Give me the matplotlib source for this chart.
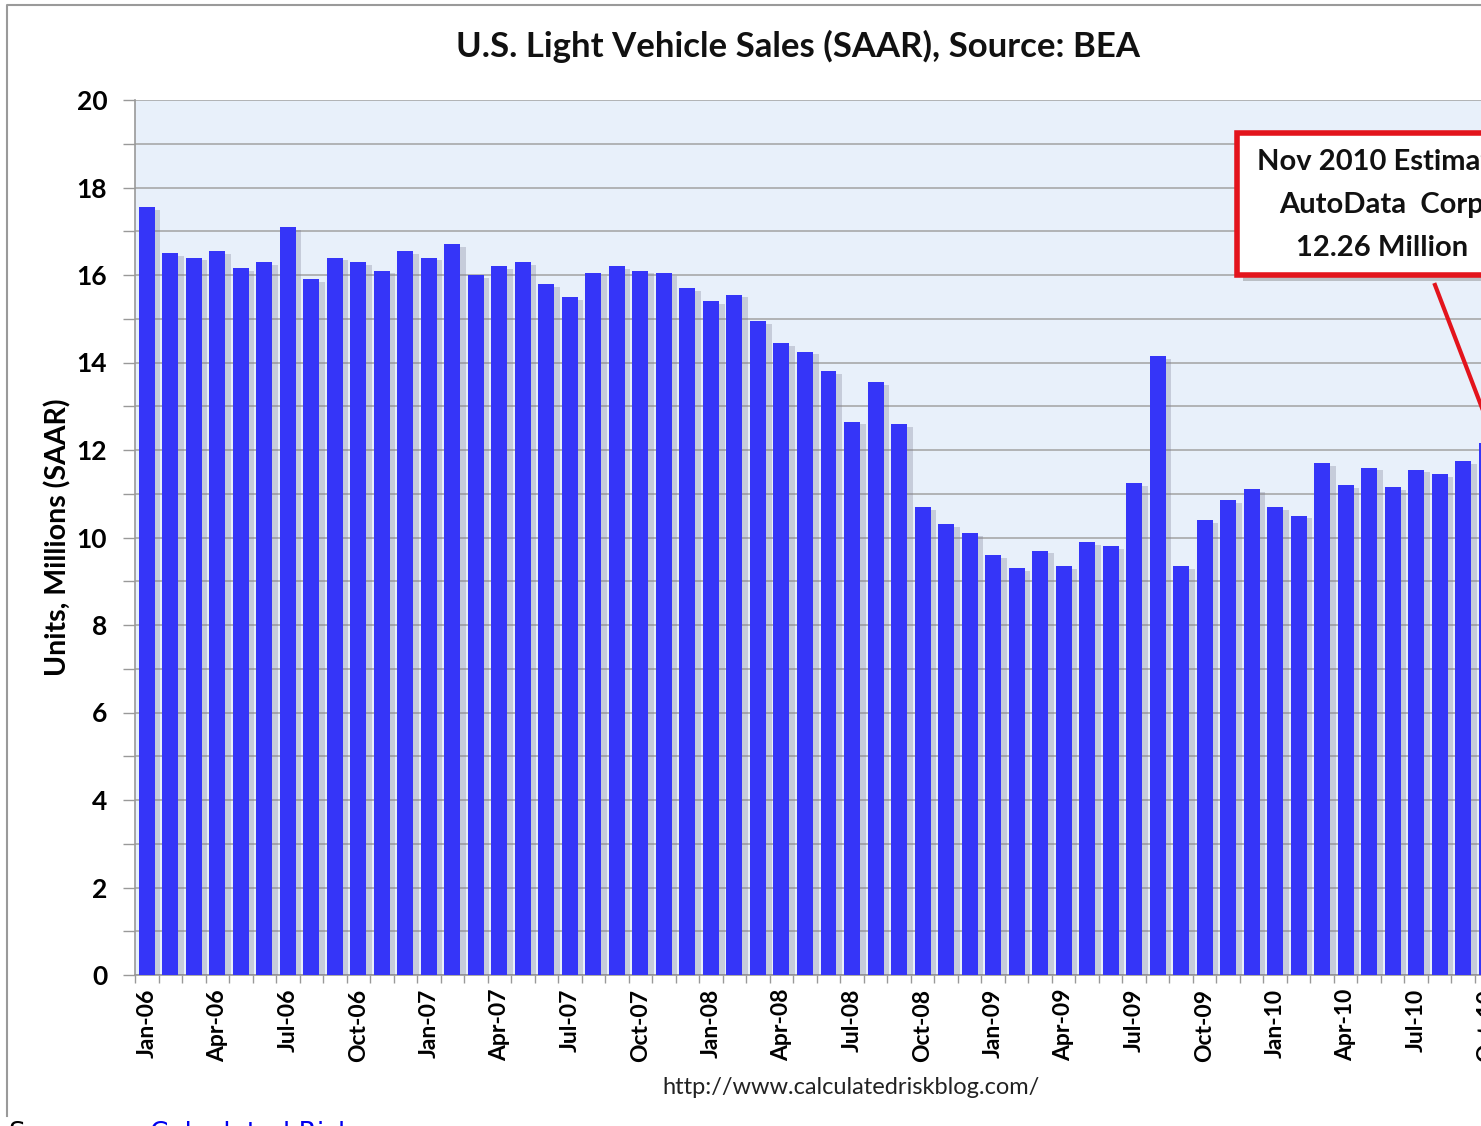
import matplotlib
matplotlib.use('Agg')
import matplotlib.pyplot as plt
import matplotlib.patheffects as pe
from matplotlib.patches import Rectangle
import numpy as np
import pandas as pd

plt.rcParams['font.family'] = ['Lato', 'DejaVu Sans']

# monthly light vehicle sales, SAAR, millions (Jan-06 .. Nov-10)
sales = [
    17.55, 16.50, 16.40, 16.55, 16.15, 16.30, 17.10, 15.90, 16.40, 16.30, 16.10, 16.55,  # 2006
    16.40, 16.70, 16.00, 16.20, 16.30, 15.80, 15.50, 16.05, 16.20, 16.10, 16.05, 15.70,  # 2007
    15.40, 15.55, 14.95, 14.45, 14.25, 13.80, 12.65, 13.55, 12.60, 10.70, 10.30, 10.10,  # 2008
    9.60, 9.30, 9.70, 9.35, 9.90, 9.80, 11.25, 14.15, 9.35, 10.40, 10.85, 11.10,         # 2009
    10.70, 10.50, 11.70, 11.20, 11.60, 11.15, 11.55, 11.45, 11.75, 12.15, 12.26,         # 2010
]
months = pd.date_range('2006-01-01', periods=len(sales), freq='MS').strftime('%b-%y').tolist()

title = 'U.S. Light Vehicle Sales (SAAR), Source: BEA'
note_lines = ['Nov 2010 Estimate', 'AutoData  Corp', '12.26 Million']

W, H = 1481, 1126
fig = plt.figure(figsize=(W / 100, H / 100), dpi=100)


def fx(px):
    return px / W


def fy(py):
    return 1 - py / H


# outer chart frame (left and top edges only are visible)
fig.add_artist(plt.Line2D([fx(7), fx(7), 1.0], [fy(1116), fy(5), fy(5)], transform=fig.transFigure,
                          color='#9a9a9a', lw=1.5, zorder=-1))

ax = fig.add_axes([fx(135), fy(975), fx(1522) - fx(135), fy(100) - fy(975)])
ax.set_facecolor('#e8f0fa')

x = np.arange(len(sales))
ax.bar(x, sales, width=0.68, color='#3535f8', zorder=3,
       path_effects=[pe.SimplePatchShadow(offset=(4, -2), shadow_rgbFace='#7a7a90', alpha=0.3),
                     pe.Normal()])

ax.set_xlim(-0.5, len(sales) - 0.5)
ax.set_ylim(0, 20)

ax.set_yticks(np.arange(0, 21, 2))
ax.set_yticks(np.arange(0, 21, 1), minor=True)
ax.yaxis.grid(True, which='both', color='#a2a2a2', lw=1.1, zorder=1)
ax.set_axisbelow(True)
ax.tick_params(axis='y', which='both', length=9, color='#999999', width=1, pad=11)
ax.tick_params(axis='y', labelsize=19)
for lab in ax.get_yticklabels():
    lab.set_fontweight('bold')

lab_idx = x[::3]
ax.set_xticks(lab_idx)
ax.set_xticklabels([months[i] for i in lab_idx], rotation=90, fontsize=16.5, fontweight='bold')
ax.set_xticks(np.arange(-0.5, len(sales), 1), minor=True)
ax.tick_params(axis='x', which='major', length=0, pad=10)
ax.tick_params(axis='x', which='minor', length=6, color='#999999', width=1)

for side in ['top', 'right']:
    ax.spines[side].set_visible(False)
for side in ['left', 'bottom']:
    ax.spines[side].set_color('#999999')
    ax.spines[side].set_linewidth(1.2)

ax.set_ylabel('Units, Millions (SAAR)', fontsize=20.5, fontweight='bold', labelpad=4)

fig.text(fx(798), fy(46), title, ha='center', va='center', fontsize=25, fontweight='bold', color='#111111')
fig.text(fx(851), fy(1088), 'http://www.calculatedriskblog.com/', ha='center', va='center',
         fontsize=17, color='#222222')

# annotation box and pointer
box = Rectangle((fx(1237), fy(275)), fx(1527) - fx(1237), fy(133) - fy(275), transform=fig.transFigure,
                facecolor='white', edgecolor='#e3141c', lw=4, zorder=10,
                path_effects=[pe.SimplePatchShadow(offset=(4, -4), shadow_rgbFace='#777777', alpha=0.4),
                              pe.Normal()])
fig.patches.append(box)
for k, line in enumerate(note_lines):
    fig.text(fx(1382), fy(162 + 43 * k), line, ha='center', va='center', fontsize=21,
             fontweight='bold', color='#111111', zorder=11)
fig.add_artist(plt.Line2D([fx(1435), fx(1500)], [fy(285), fy(455)], transform=fig.transFigure,
                          color='#e3141c', lw=3, zorder=9))

# clipped source line at the bottom edge
fig.text(fx(8), fy(1121), 'Source:', ha='left', va='top', fontsize=19, family='DejaVu Sans', color='black')
fig.text(fx(150), fy(1121), 'Calculated Risk', ha='left', va='top', fontsize=19, family='DejaVu Sans',
         color='#0000ee')

fig.savefig('out.png', dpi=100)
